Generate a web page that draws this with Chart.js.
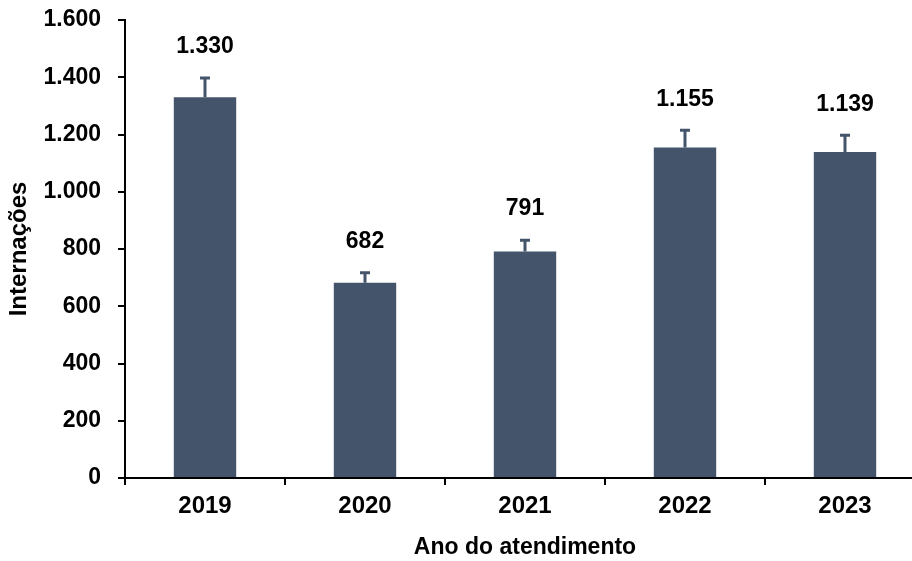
<!DOCTYPE html>
<html>
<head>
<meta charset="utf-8">
<script src="https://cdn.jsdelivr.net/npm/chart.js@4"></script>
<style>
  body { margin: 0; background: #fff; }
  #wrap { width: 912px; height: 561px; }
</style>
</head>
<body>
<div id="wrap"><canvas id="chart"></canvas></div>
<script>
var years = ["2019", "2020", "2021", "2022", "2023"];
var internacoes = [1330, 682, 791, 1155, 1139];
var upperError = [1397, 717, 831, 1215, 1197];
var yTicks = [0, 200, 400, 600, 800, 1000, 1200, 1400, 1600];

function fmt(v) {
  return String(v).replace(/\B(?=(\d{3})+(?!\d))/g, ".");
}

var barColor = "#44546a";

// the original plot runs a little past the right edge of the picture
var overflowRight = {
  id: "overflowRight",
  afterLayout: function (chart) {
    var extra = 13;
    var x = chart.scales.x;
    x.right += extra;
    x.width += extra;
    x.configure();
    chart.chartArea.right += extra;
    chart.chartArea.width += extra;
  }
};

var errorBars = {
  id: "errorBars",
  afterDatasetsDraw: function (chart) {
    var ctx = chart.ctx;
    var meta = chart.getDatasetMeta(0);
    var y = chart.scales.y;
    ctx.save();
    meta.data.forEach(function (bar, i) {
      var top = y.getPixelForValue(upperError[i]);
      ctx.strokeStyle = barColor;
      ctx.lineWidth = 3;
      ctx.beginPath();
      ctx.moveTo(bar.x, bar.y);
      ctx.lineTo(bar.x, top);
      ctx.moveTo(bar.x - 5, top);
      ctx.lineTo(bar.x + 5, top);
      ctx.stroke();

      ctx.fillStyle = "#000";
      ctx.font = "bold 23px 'Liberation Sans', Arial, sans-serif";
      ctx.textAlign = "center";
      ctx.textBaseline = "middle";
      ctx.fillText(fmt(internacoes[i]), bar.x, top - 31);
    });
    ctx.restore();
  }
};

Chart.defaults.font.family = "'Liberation Sans', Arial, sans-serif";
Chart.defaults.font.weight = "bold";
Chart.defaults.color = "#000";

new Chart(document.getElementById("chart"), {
  type: "bar",
  data: {
    labels: years,
    datasets: [
      {
        data: internacoes,
        backgroundColor: barColor,
        barPercentage: 0.39,
        categoryPercentage: 1,
      },
    ],
  },
  options: {
    responsive: true,
    maintainAspectRatio: false,
    animation: false,
    layout: { padding: { top: 20, left: 2, right: 0, bottom: 0 } },
    plugins: {
      legend: { display: false },
      tooltip: { enabled: false },
    },
    scales: {
      y: {
        min: 0,
        max: 1600,
        afterBuildTicks: function (axis) {
          axis.ticks = yTicks.map(function (v) { return { value: v }; });
        },
        afterFit: function (axis) {
          axis.width = 123;
          axis.paddingTop = 0;
          axis.paddingBottom = 0;
        },
        ticks: {
          font: { size: 23, weight: "bold" },
          padding: 17,
          callback: function (v) { return fmt(v); },
        },
        grid: {
          drawOnChartArea: false,
          drawTicks: true,
          tickLength: 7,
          color: "#000",
          lineWidth: 2,
        },
        border: { display: true, color: "#000", width: 2 },
        title: {
          display: true,
          text: "Internações",
          font: { size: 24, weight: "bold" },
          padding: { top: 3, bottom: 6 },
        },
      },
      x: {
        afterFit: function (axis) { axis.height = 83; },
        ticks: {
          font: { size: 24, weight: "bold" },
          padding: 7,
        },
        grid: {
          offset: true,
          drawOnChartArea: false,
          drawTicks: true,
          tickLength: 7,
          color: "#000",
          lineWidth: 2,
        },
        border: { display: true, color: "#000", width: 2 },
        title: {
          display: true,
          text: "Ano do atendimento",
          font: { size: 23, weight: "bold" },
          padding: { top: 12, bottom: 0 },
        },
      },
    },
  },
  plugins: [overflowRight, errorBars],
});
</script>
</body>
</html>
